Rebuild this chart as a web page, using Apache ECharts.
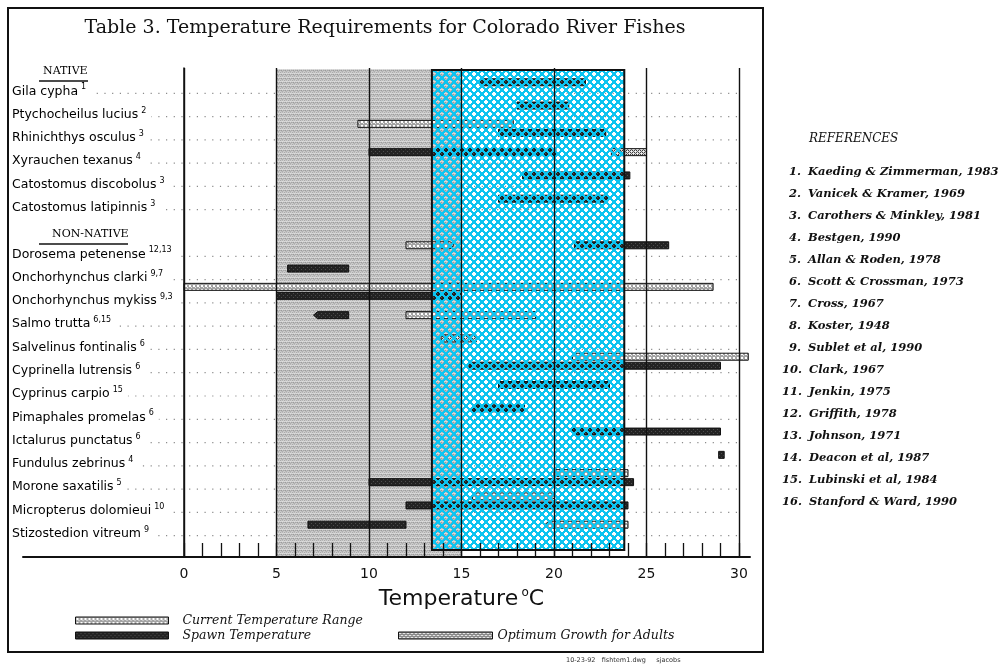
<!DOCTYPE html>
<html>
<head>
<meta charset="utf-8">
<script src="https://cdn.jsdelivr.net/npm/echarts/dist/echarts.min.js"></script>
<style>
  html, body { margin: 0; padding: 0; background: #fff; }
  #chart { width: 1007px; height: 668px; }
</style>
</head>
<body>
<div id="chart"></div>
<script>
// ---- Table rows, top to bottom (group headings included) ----
const categories = [
  'NATIVE',
  'Gila cypha', 'Ptychocheilus lucius', 'Rhinichthys osculus', 'Xyrauchen texanus',
  'Catostomus discobolus', 'Catostomus latipinnis',
  'NON-NATIVE',
  'Dorosema petenense', 'Onchorhynchus clarki', 'Onchorhynchus mykiss', 'Salmo trutta',
  'Salvelinus fontinalis', 'Cyprinella lutrensis', 'Cyprinus carpio', 'Pimaphales promelas',
  'Ictalurus punctatus', 'Fundulus zebrinus', 'Morone saxatilis', 'Micropterus dolomieui',
  'Stizostedion vitreum'
];
const groupHeadings = ['NATIVE', 'NON-NATIVE'];
// reference numbers shown as superscripts after each name
const citations = [
  '', '1', '2', '3', '4', '3', '3',
  '', '12,13', '9,7', '9,3', '6,15', '6', '6', '15', '6', '6', '4', '5', '10', '9'
];

// ---- Temperature ranges, °C: [species, low, high, open end] ----
const currentRange = [
  ['Rhinichthys osculus', 9.4, 17.8],
  ['Dorosema petenense', 12, 14.6, 'hi'],
  ['Onchorhynchus mykiss', 0, 28.6],
  ['Salmo trutta', 12, 19],
  ['Cyprinella lutrensis', 21, 30.5],
  ['Morone saxatilis', 20, 24],
  ['Micropterus dolomieui', 15.6, 20.1, 'hi'],
  ['Stizostedion vitreum', 19.5, 24, 'lo']
];
const spawnTemp = [
  ['Gila cypha', 16, 21.7],
  ['Ptychocheilus lucius', 18, 20.8],
  ['Rhinichthys osculus', 17, 22.8],
  ['Xyrauchen texanus', 10, 20.1],
  ['Catostomus discobolus', 18.3, 24.1],
  ['Catostomus latipinnis', 17, 22.9],
  ['Dorosema petenense', 21.1, 26.2],
  ['Onchorhynchus clarki', 5.6, 8.9],
  ['Onchorhynchus mykiss', 5, 15],
  ['Salmo trutta', 7, 8.9, 'lo'],
  ['Cyprinella lutrensis', 15.4, 29],
  ['Cyprinus carpio', 17, 23],
  ['Pimaphales promelas', 15.6, 18.4],
  ['Ictalurus punctatus', 21, 29],
  ['Fundulus zebrinus', 28.9, 29.2],
  ['Morone saxatilis', 10, 24.3],
  ['Micropterus dolomieui', 12, 24],
  ['Stizostedion vitreum', 6.7, 12]
];
const optimumGrowth = [
  ['Xyrauchen texanus', 23.1, 25],
  ['Salvelinus fontinalis', 13.9, 15.8]
];

// shaded temperature bands, °C
const coldBand = [5, 15];
const warmBand = [13.4, 23.8];

// temperature axis
const tempMin = 0, tempMax = 30, tempStep = 5;

const references = [
  'Kaeding & Zimmerman, 1983', 'Vanicek & Kramer, 1969', 'Carothers & Minkley, 1981',
  'Bestgen, 1990', 'Allan & Roden, 1978', 'Scott & Crossman, 1973', 'Cross, 1967',
  'Koster, 1948', 'Sublet et al, 1990', 'Clark, 1967', 'Jenkin, 1975', 'Griffith, 1978',
  'Johnson, 1971', 'Deacon et al, 1987', 'Lubinski et al, 1984', 'Stanford & Ward, 1990'
];

// ---- fill patterns ----
function makeTile(w, h, draw) {
  const c = document.createElement('canvas');
  c.width = w; c.height = h;
  draw(c.getContext('2d'));
  return { image: c, repeat: 'repeat' };
}
function paintPixels(g, rows) {
  rows.forEach((row, y) => row.forEach((col, x) => {
    if (col) { g.fillStyle = col; g.fillRect(x, y, 1, 1); }
  }));
}
const grayFill = makeTile(4, 4, g => paintPixels(g, [
  ['#a9a9a9', '#c8c8c8', '#b6b6b6', '#cecece'],
  ['#dadada', '#d2d2d2', '#dddddd', '#d0d0d0'],
  ['#b3b3b3', '#9a9a9a', '#c4c4c4', '#a6a6a6'],
  ['#cdcdcd', '#bcbcbc', '#afafaf', '#c6c6c6']
]));
const cyanFill = makeTile(8, 8, g => {
  g.fillStyle = '#0cc4f0';
  g.fillRect(0, 0, 8, 8);
  [[0, 0], [4, 4]].forEach(([ox, oy]) => {
    g.clearRect(ox + 1, oy, 2, 4);
    g.clearRect(ox, oy + 1, 4, 2);
  });
});
const currentFill = makeTile(4, 4, g => {
  g.fillStyle = '#a4a4a4'; g.fillRect(0, 0, 4, 4);
  g.fillStyle = '#ffffff'; g.fillRect(1, 1, 2, 2);
  g.fillStyle = '#e8e8e8'; g.fillRect(3, 3, 1, 1);
});
const spawnFill = makeTile(4, 4, g => {
  g.fillStyle = '#232323'; g.fillRect(0, 0, 4, 4);
  g.fillStyle = '#4c4c4c'; g.fillRect(1, 1, 1, 1); g.fillRect(3, 3, 1, 1);
});
const optimumFill = makeTile(4, 4, g => paintPixels(g, [
  ['#3c3c3c', '#d8d8d8', '#3c3c3c', '#d8d8d8'],
  ['#d8d8d8', '#f2f2f2', '#d8d8d8', '#707070'],
  ['#3c3c3c', '#d8d8d8', '#3c3c3c', '#d8d8d8'],
  ['#d8d8d8', '#707070', '#d8d8d8', '#f2f2f2']
]));

// ---- bar preparation: rows holding overlapping bars split into two lanes ----
const rowIndex = name => categories.indexOf(name);
const overlaps = (a, b) => a[1] < b[2] && b[1] < a[2];
function prepare(list, isCurrent) {
  const others = isCurrent ? spawnTemp.concat(optimumGrowth) : currentRange;
  return list.map(rec => {
    const shared = others.some(o => o[0] === rec[0] && overlaps(o, rec));
    return {
      row: rowIndex(rec[0]), lo: rec[1], hi: rec[2], open: rec[3] || '',
      lane: shared ? (isCurrent ? 'upper' : 'lower') : 'single'
    };
  });
}
const laneShift = { upper: -14, single: -9, lower: -5 };
const barHeight = 7;

function barSeries(name, list, isCurrent, fill, z) {
  const bars = prepare(list, isCurrent);
  return {
    name, type: 'custom', z, clip: false,
    encode: { x: [0, 1], y: 2 },
    data: bars.map(b => [b.lo, b.hi, b.row]),
    renderItem(params, api) {
      const b = bars[params.dataIndex];
      const p0 = api.coord([api.value(0), api.value(2)]);
      const p1 = api.coord([api.value(1), api.value(2)]);
      const yc = p0[1] + laneShift[b.lane];
      const x0 = p0[0], x1 = p1[0];
      const y0 = yc - barHeight / 2, y1 = yc + barHeight / 2;
      const tip = Math.min(4, (x1 - x0) / 2);
      let pts;
      if (b.open === 'hi') pts = [[x0, y0], [x1 - tip, y0], [x1, yc], [x1 - tip, y1], [x0, y1]];
      else if (b.open === 'lo') pts = [[x0 + tip, y0], [x1, y0], [x1, y1], [x0 + tip, y1], [x0, yc]];
      else pts = [[x0, y0], [x1, y0], [x1, y1], [x0, y1]];
      return {
        type: 'polygon', shape: { points: pts },
        style: { fill, stroke: '#111', lineWidth: 1 }
      };
    }
  };
}

const labelLeft = 172; // distance from the 0 °C line back to the start of the row names
const speciesRows = categories.map((c, i) => i).filter(i => !groupHeadings.includes(categories[i]));

// reference list: numbers kept right-aligned by padding the one-digit ones
const refText = ['{h|REFERENCES}']
  .concat(references.map((r, i) => {
    const num = String(i + 1);
    return '{' + (num.length < 2 ? 'n1' : 'n2') + '|' + num + '.}{t|' + r + '}';
  }))
  .join('\n');

const serif = '"DejaVu Serif", serif';
const sans = '"DejaVu Sans", sans-serif';
const refFont = { fontFamily: serif, fontStyle: 'italic', fontWeight: 'bold', fontSize: 11.5, fill: '#111', lineHeight: 22 };

const option = {
  animation: false,
  backgroundColor: '#fff',
  title: [
    {
      text: 'Table 3. Temperature Requirements for Colorado River Fishes',
      left: 385, top: 19, padding: 0, textAlign: 'center',
      textStyle: { fontFamily: serif, fontSize: 19, fontWeight: 'normal', color: '#111' }
    }
  ],
  legend: [
    {
      orient: 'vertical', left: 70, top: 608, itemWidth: 93, itemHeight: 7, itemGap: 0,
      selectedMode: false,
      textStyle: { fontFamily: serif, fontStyle: 'italic', fontSize: 12.5, color: '#111', lineHeight: 15, padding: [0, 0, 0, 9] },
      data: [
        { name: 'Current Temperature Range', icon: 'rect', itemStyle: { color: currentFill, borderColor: '#111', borderWidth: 1 } },
        { name: 'Spawn Temperature', icon: 'rect', itemStyle: { color: spawnFill, borderColor: '#111', borderWidth: 1 } }
      ]
    },
    {
      orient: 'vertical', left: 393, top: 623, itemWidth: 94, itemHeight: 7,
      selectedMode: false,
      textStyle: { fontFamily: serif, fontStyle: 'italic', fontSize: 12.5, color: '#111', lineHeight: 15, padding: 0 },
      data: [
        { name: 'Optimum Growth for Adults', icon: 'rect', itemStyle: { color: optimumFill, borderColor: '#111', borderWidth: 1 } }
      ]
    }
  ],
  grid: [
    { left: 184, right: 268, top: 68, bottom: 111, outerBoundsMode: 'none' },
    { left: 23, right: 257, top: 68, bottom: 111, outerBoundsMode: 'none' }
  ],
  xAxis: [
    {
      type: 'value', gridIndex: 0, min: tempMin, max: tempMax, interval: tempStep, z: 5,
      name: '{t|Temperature} {o|o}{c|C}', nameLocation: 'middle', nameGap: 30,
      nameTextStyle: {
        rich: {
          t: { fontFamily: sans, fontSize: 22, color: '#111', lineHeight: 25 },
          o: { fontFamily: sans, fontSize: 12, color: '#111', verticalAlign: 'top', lineHeight: 12 },
          c: { fontFamily: sans, fontSize: 22, color: '#111', lineHeight: 25 }
        }
      },
      axisLine: { show: false },
      axisTick: { show: true, inside: true, length: 14, lineStyle: { color: '#111', width: 1.3 } },
      minorTick: { show: true, splitNumber: 5, length: 14, lineStyle: { color: '#111', width: 1.3 } },
      axisLabel: { margin: 10, fontFamily: sans, fontSize: 14, color: '#111' },
      splitLine: { show: true, lineStyle: { color: '#111', width: 1.4 } },
      minorSplitLine: { show: false }
    },
    {
      type: 'value', gridIndex: 1, min: 0, max: 1, z: 5,
      axisLine: { show: true, lineStyle: { color: '#111', width: 2 } },
      axisTick: { show: false }, axisLabel: { show: false }, splitLine: { show: false }
    }
  ],
  yAxis: [
    {
      type: 'category', gridIndex: 0, inverse: true, boundaryGap: false, z: 2,
      data: categories.concat(['']),
      axisLine: { show: true, lineStyle: { color: '#111', width: 1.5 } },
      axisTick: { show: false },
      splitLine: { show: false },
      axisLabel: {
        interval: 0, align: 'left', margin: labelLeft, color: '#000',
        backgroundColor: '#fff', padding: [0, 5, 0, 0],
        formatter(value) {
          if (!value) return '';
          if (value === 'NATIVE') return '{gap|}\n{hdA|' + value + '}\n{sp|}{ulA|}';
          if (value === 'NON-NATIVE') return '{gap|}\n{hdB|' + value + '}\n{sp|}{ulB|}';
          return '{nm|' + value + '}{sup|' + citations[categories.indexOf(value)] + '}';
        },
        rich: {
          nm: { fontFamily: sans, fontSize: 12.5, color: '#000', lineHeight: 16 },
          sup: { fontFamily: sans, fontSize: 8, color: '#000', verticalAlign: 'top', lineHeight: 10, padding: [0, 0, 0, 3] },
          gap: { lineHeight: 11, height: 11 },
          hdA: { fontFamily: serif, fontSize: 11, color: '#000', lineHeight: 15, padding: [0, 0, 0, 31] },
          hdB: { fontFamily: serif, fontSize: 11, color: '#000', lineHeight: 15, padding: [0, 0, 0, 40] },
          sp: { width: 27, height: 2, lineHeight: 4 },
          ulA: { width: 49, height: 1.5, lineHeight: 4, backgroundColor: '#111' },
          ulB: { width: 89, height: 1.5, lineHeight: 4, backgroundColor: '#111' }
        }
      }
    },
    { type: 'value', gridIndex: 1, show: false }
  ],
  graphic: [
    {
      type: 'rect', z: 100, silent: true,
      shape: { x: 8, y: 8, width: 755, height: 644 },
      style: { fill: null, stroke: '#111', lineWidth: 2 }
    },
    {
      type: 'text', x: 782, y: 117, silent: true,
      style: {
        text: refText, align: 'left', verticalAlign: 'top',
        rich: {
          h: { fontFamily: serif, fontStyle: 'italic', fontSize: 12, fill: '#111', lineHeight: 44, padding: [0, 0, 0, 27] },
          n1: Object.assign({}, refFont, { padding: [0, 0, 0, 7] }),
          n2: Object.assign({}, refFont),
          t: Object.assign({}, refFont, { padding: [0, 0, 0, 7] })
        }
      }
    },
    {
      type: 'text', left: 566, top: 657, silent: true,
      style: { text: '10-23-92   fishtem1.dwg     sjacobs', fontFamily: sans, fontSize: 6.5, fill: '#333' }
    }
  ],
  series: [
    // dotted leaders from each name across the chart
    {
      type: 'custom', name: 'leaders', z: 1, silent: true, clip: false,
      encode: { x: 0, y: 1 },
      data: speciesRows.map(i => [tempMax, i]),
      renderItem(params, api) {
        const p = api.coord([api.value(0), api.value(1)]);
        const x0 = params.coordSys.x - labelLeft;
        return {
          type: 'line',
          shape: { x1: x0, y1: p[1] + 2, x2: p[0], y2: p[1] + 2 },
          style: { stroke: '#8c8c8c', lineWidth: 1.2, lineDash: [1.2, 6.5] }
        };
      }
    },
    // grey band
    {
      type: 'custom', name: 'cold', z: 2, silent: true, clip: false,
      encode: { x: [0, 1], y: 2 },
      data: [[coldBand[0], coldBand[1], 0]],
      renderItem(params, api) {
        const cs = params.coordSys;
        const x0 = api.coord([api.value(0), 0])[0];
        const x1 = api.coord([api.value(1), 0])[0];
        return { type: 'rect', shape: { x: x0, y: cs.y + 1, width: x1 - x0, height: cs.height - 1 }, style: { fill: grayFill } };
      }
    },
    barSeries('Current Temperature Range', currentRange, true, currentFill, 3),
    barSeries('Spawn Temperature', spawnTemp, false, spawnFill, 3),
    barSeries('Optimum Growth for Adults', optimumGrowth, false, optimumFill, 3),
    // cyan band printed over the bars
    {
      type: 'custom', name: 'warm', z: 4, silent: true, clip: false,
      encode: { x: [0, 1], y: 2 },
      data: [[warmBand[0], warmBand[1], 0]],
      renderItem(params, api) {
        const cs = params.coordSys;
        const x0 = api.coord([api.value(0), 0])[0];
        const x1 = api.coord([api.value(1), 0])[0];
        const y0 = cs.y + 2, y1 = cs.y + cs.height - 7;
        return {
          type: 'group',
          children: [
            { type: 'rect', shape: { x: x0, y: y0, width: x1 - x0, height: y1 - y0 }, style: { fill: cyanFill } },
            { type: 'rect', z2: 10, shape: { x: x0, y: y0, width: x1 - x0, height: y1 - y0 }, style: { fill: null, stroke: '#111', lineWidth: 2 } }
          ]
        };
      }
    }
  ]
};

const chart = echarts.init(document.getElementById('chart'));
chart.setOption(option);
</script>
</body>
</html>
